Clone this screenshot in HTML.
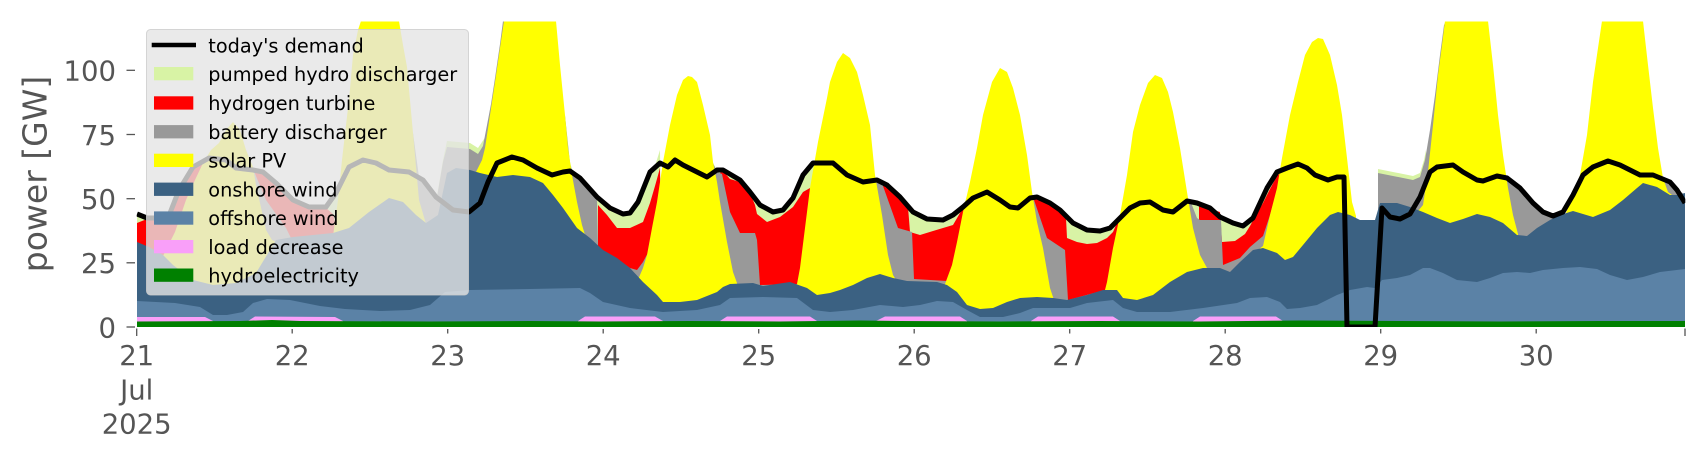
<!DOCTYPE html>
<html>
<head>
<meta charset="utf-8">
<style>
  html, body { margin: 0; padding: 0; background: #ffffff; }
  svg { display: block; }
  text { font-family: "DejaVu Sans", "Liberation Sans", sans-serif; }
</style>
</head>
<body>
<svg width="1706" height="460" viewBox="0 0 1706 460" xmlns="http://www.w3.org/2000/svg">
  <defs>
    <clipPath id="plot">
      <rect x="136.7" y="21.5" width="1548.6" height="305.5"/>
    </clipPath>
  </defs>
  <rect x="0" y="0" width="1706" height="460" fill="#ffffff"/>

  <g clip-path="url(#plot)">
    <!-- pumped hydro discharger -->
    <g fill="#d8f3a5">
      <path d="M137,327 L137,216 L147,216 L160,217 L167,216 L170,212 L179,188 L193,166 L209,157 L226,159 L236,167 L250,169 L263,172 L276,183 L293,200 L309,207 L326,207 L336,193 L342,176 L344,327 Z"/>
      <path d="M413,327 L413,133 L419,176 L426,183 L437,196 L443,160 L447,141 L470,143 L478,148 L486,136 L490,110 L492,327 Z"/>
      <path d="M565,327 L565,115 L570,162 L573,173 L580,177 L590,187 L597,197 L603,203 L610,209 L617,212 L623,214 L630,213 L638,203 L645,186 L650,173 L655,166 L660,150 L662,327 Z"/>
      <path d="M713,327 L713,163 L717,170 L723,170 L740,180 L750,192 L760,204 L773,212 L783,210 L793,198 L803,176 L810,168 L814,160 L816,327 Z"/>
      <path d="M873,327 L873,178 L877,180 L887,185 L900,197 L913,211 L927,218 L943,219 L953,214 L963,206 L970,190 L972,327 Z"/>
      <path d="M1028,327 L1028,198 L1037,197 L1050,203 L1060,210 L1073,223 L1087,230 L1100,231 L1110,228 L1120,218 L1125,208 L1127,327 Z"/>
      <path d="M1185,327 L1185,200 L1197,203 L1210,208 L1220,217 L1233,223 L1243,226 L1250,220 L1257,212 L1263,201 L1270,186 L1277,174 L1287,168 L1292,150 L1294,327 Z"/>
      <path d="M1378,327 L1378,169 L1393,172 L1413,176 L1420,173 L1424,160 L1426,150 L1428,327 Z"/>
    </g>
    <!-- hydrogen turbine -->
    <g fill="#ff0000">
      <path d="M137,327 L137,223 L147,219 L160,220 L167,219 L170,214 L179,190 L193,168 L209,160 L226,162 L236,170 L250,171 L263,173 L276,184 L293,201 L309,208 L326,208 L333,214 L337,232 L340,327 Z"/>
      <path d="M598,327 L598,205 L607,215 L617,228 L630,228 L643,222 L650,203 L655,186 L660,168 L662,327 Z"/>
      <path d="M720,327 L720,173 L723,171 L730,179 L740,182 L750,193 L755,205 L757,214 L767,222 L780,217 L793,207 L803,192 L810,188 L812,327 Z"/>
      <path d="M883,327 L883,185 L887,186 L900,198 L908,207 L910,232 L920,235 L933,231 L943,228 L953,225 L960,213 L965,205 L967,327 Z"/>
      <path d="M1033,327 L1033,197 L1037,198 L1050,204 L1060,211 L1066,218 L1067,238 L1077,242 L1087,244 L1097,243 L1107,238 L1113,232 L1120,216 L1122,327 Z"/>
      <path d="M1199,327 L1199,204 L1210,209 L1220,212 L1222,242 L1235,241 L1245,234 L1250,226 L1257,213 L1263,203 L1270,189 L1277,176 L1283,170 L1285,327 Z"/>
    </g>
    <!-- battery discharger -->
    <g fill="#999999">
      <path d="M246,327 L246,150 L256,176 L266,200 L276,214 L286,228 L292,240 L294,327 Z"/>
      <path d="M413,327 L413,133 L419,178 L426,185 L437,197 L443,162 L447,147 L470,149 L478,154 L483,146 L487,125 L491,104 L495,78 L500,44 L503,21 L506,21 L506,327 Z"/>
      <path d="M565,327 L565,116 L570,164 L573,174 L580,178 L590,188 L597,198 L598,247 L603,252 L617,259 L630,268 L637,270 L643,262 L650,249 L655,230 L657,327 Z"/>
      <path d="M713,327 L713,163 L717,172 L722,174 L730,212 L740,233 L755,233 L757,240 L760,285 L800,284 L803,284 L803,327 Z"/>
      <path d="M873,327 L873,178 L877,180 L883,186 L898,228 L912,232 L914,279 L947,281 L952,284 L952,327 Z"/>
      <path d="M1028,327 L1028,196 L1033,197 L1047,238 L1065,250 L1068,300 L1105,290 L1108,285 L1108,327 Z"/>
      <path d="M1185,327 L1185,197 L1190,200 L1197,218 L1200,220 L1221,220 L1223,265 L1240,258 L1250,247 L1263,236 L1270,215 L1277,190 L1282,170 L1284,327 Z"/>
      <path d="M1378,327 L1378,173 L1393,176 L1413,180 L1420,177 L1425,160 L1430,130 L1435,95 L1440,55 L1444,25 L1446,21 L1450,21 L1450,327 Z"/>
      <path d="M1498,327 L1498,120 L1503,175 L1507,178 L1513,182 L1520,188 L1533,203 L1543,212 L1550,216 L1556,222 L1558,327 Z"/>
      <path d="M1660,327 L1660,175 L1667,182 L1677,189 L1685,195 L1685,327 Z"/>
    </g>
    <!-- solar PV -->
    <g fill="#ffff00">
      <path d="M163,327 L163,256 L175,232 L186,200 L195,180 L203,163 L211,150 L219,143 L226,130 L233,122 L240,130 L246,150 L253,167 L256,185 L262,212 L266,230 L272,240 L276,242 L276,327 Z"/>
      <path d="M333,327 L333,236 L338,200 L342,160 L346,125 L349,100 L353,55 L358,30 L361,21 L399,21 L403,45 L407,67 L413,133 L419,200 L426,224 L428,327 Z"/>
      <path d="M476,327 L476,172 L482,160 L485,148 L490,115 L495,82 L500,48 L504,21 L556,21 L560,65 L565,115 L568,148 L572,175 L577,202 L582,225 L586,238 L588,327 Z"/>
      <path d="M637,327 L637,282 L643,268 L647,255 L652,228 L657,202 L663,162 L670,125 L677,95 L683,80 L688,76 L692,77 L697,82 L703,105 L710,135 L713,162 L717,182 L720,202 L727,242 L733,272 L737,283 L739,327 Z"/>
      <path d="M797,327 L797,284 L800,268 L805,228 L810,188 L818,142 L827,98 L830,82 L837,62 L843,53 L850,58 L857,72 L863,95 L870,125 L875,175 L882,215 L888,255 L893,275 L896,280 L898,327 Z"/>
      <path d="M945,327 L945,284 L952,265 L957,242 L963,212 L970,182 L977,148 L983,115 L992,82 L1000,68 L1007,72 L1013,88 L1020,115 L1027,155 L1032,192 L1037,222 L1043,248 L1050,288 L1054,300 L1056,327 Z"/>
      <path d="M1105,327 L1105,290 L1107,282 L1113,248 L1120,215 L1127,175 L1133,132 L1140,105 L1148,83 L1155,75 L1162,78 L1168,92 L1173,112 L1180,148 L1187,192 L1193,228 L1200,255 L1207,268 L1209,327 Z"/>
      <path d="M1258,327 L1258,250 L1263,246 L1270,215 L1277,188 L1282,158 L1290,115 L1298,82 L1305,55 L1312,42 L1318,38 L1323,39 L1330,55 L1337,85 L1342,115 L1347,158 L1352,202 L1356,216 L1358,327 Z"/>
      <path d="M1418,327 L1418,211 L1423,205 L1428,172 L1433,125 L1438,75 L1442,45 L1445,21 L1488,21 L1493,65 L1498,115 L1503,155 L1508,188 L1513,215 L1518,234 L1520,327 Z"/>
      <path d="M1566,327 L1566,213 L1573,195 L1580,175 L1587,135 L1593,82 L1598,48 L1602,21 L1643,21 L1648,65 L1653,108 L1658,148 L1663,178 L1668,192 L1672,195 L1674,327 Z"/>
    </g>
    <!-- onshore wind -->
    <path fill="#3b6182" d="M137,327 L137,242 L149,247 L163,255 L173,265 L193,280 L213,285 L236,283 L256,273 L276,240 L293,237 L313,235 L333,233 L349,228 L369,212 L389,198 L403,202 L416,215 L426,223 L438,215 L447,173 L456,168 L470,170 L480,173 L497,177 L513,175 L530,177 L543,183 L553,195 L563,208 L577,228 L590,238 L603,250 L617,258 L630,268 L643,282 L657,295 L663,302 L680,302 L697,300 L717,292 L723,287 L730,284 L753,283 L763,286 L790,282 L807,288 L817,295 L830,293 L840,290 L853,285 L867,278 L880,274 L893,278 L907,281 L937,282 L947,285 L957,292 L967,305 L980,309 L993,308 L1007,302 L1020,298 L1037,297 L1053,298 L1067,300 L1087,295 L1103,290 L1117,290 L1123,298 L1137,300 L1153,295 L1170,282 L1187,272 L1203,268 L1220,268 L1230,272 L1240,262 L1253,250 L1263,248 L1277,253 L1285,260 L1293,257 L1303,245 L1317,228 L1330,215 L1338,212 L1350,215 L1360,220 L1375,220 L1380,203 L1397,203 L1410,207 L1423,212 L1437,218 L1450,223 L1463,219 L1477,214 L1490,217 L1503,223 L1517,235 L1527,236 L1537,228 L1550,220 L1560,215 L1573,211 L1593,217 L1610,210 L1623,200 L1637,188 L1643,183 L1657,187 L1670,195 L1677,195 L1685,193 L1685,327 Z"/>
    <!-- offshore wind -->
    <path fill="#5b82a6" d="M137,327 L137,301 L175,303 L200,307 L213,315 L227,315 L243,312 L253,303 L267,299 L290,300 L320,306 L345,309 L380,311 L410,310 L430,305 L445,292 L470,290 L530,289 L580,288 L590,293 L603,302 L630,308 L663,312 L697,310 L720,305 L730,298 L763,297 L797,298 L813,310 L830,312 L853,310 L880,305 L903,307 L920,305 L937,301 L953,302 L967,310 L980,317 L1003,317 L1020,313 L1033,308 L1070,308 L1087,303 L1113,300 L1123,308 L1137,312 L1170,312 L1203,308 L1237,303 L1250,298 L1267,297 L1280,302 L1287,309 L1300,308 L1317,305 L1337,295 L1350,290 L1367,287 L1375,288 L1382,280 L1397,278 L1410,275 L1423,268 L1430,268 L1443,273 L1457,280 L1477,282 L1490,278 L1503,273 L1517,272 L1530,273 L1543,270 L1563,268 L1580,267 L1597,269 L1610,275 L1627,280 L1643,277 L1660,272 L1685,269 L1685,327 Z"/>
    <!-- load decrease -->
    <g fill="#f99ff9">
      <path d="M137,327 L137,317 L205,317 L213,321 L213,327 Z"/>
      <path d="M248,327 L248,321 L255,316.5 L335,317 L343,321 L343,327 Z"/>
      <path d="M578,327 L578,321 L585,316.5 L655,316.5 L663,321 L663,327 Z"/>
      <path d="M720,327 L720,321 L727,316.5 L810,316.5 L817,321 L817,327 Z"/>
      <path d="M876,327 L876,321 L885,316.5 L960,316.5 L967,321 L967,327 Z"/>
      <path d="M1031,327 L1031,321 L1038,316.5 L1113,316.5 L1120,321 L1120,327 Z"/>
      <path d="M1193,327 L1193,321 L1200,316.5 L1276,316.5 L1283,321 L1283,327 Z"/>
    </g>
    <!-- hydroelectricity -->
    <path fill="#008000" d="M137,327 L137,321.5 L240,321 L272,320 L300,321 L430,321.5 L530,321 L600,321.5 L690,321 L780,321.5 L860,320.5 L900,321 L1000,321.5 L1100,321 L1200,321.5 L1300,320.5 L1400,321 L1500,321.5 L1600,321 L1685,321 L1685,327 Z"/>
    <!-- today's demand -->
    <path fill="none" stroke="#000000" stroke-width="5" stroke-linejoin="round" stroke-linecap="butt" d="M137,214 L147,218 L160,218 L167,217 L170,213 L179,190 L193,167 L209,158 L226,160 L236,168 L253,170 L263,172 L276,183 L293,200 L309,207 L326,207 L336,193 L349,167 L363,160 L376,163 L389,170 L409,172 L423,180 L436,197 L453,210 L469,212 L480,203 L488,182 L497,163 L512,157 L523,160 L537,168 L552,175 L563,172 L570,171 L580,178 L597,197 L610,208 L623,214 L630,213 L638,202 L650,172 L660,163 L668,167 L675,160 L683,165 L697,172 L707,177 L717,170 L723,170 L740,180 L750,192 L760,205 L773,212 L783,210 L793,198 L803,175 L813,163 L833,163 L847,175 L863,182 L877,180 L887,185 L900,197 L913,212 L927,219 L943,220 L953,215 L963,207 L973,198 L987,192 L1000,200 L1010,207 L1018,208 L1030,198 L1037,197 L1050,203 L1060,210 L1073,223 L1087,230 L1100,231 L1110,228 L1120,218 L1130,208 L1140,203 L1150,202 L1163,210 L1173,212 L1187,201 L1197,203 L1210,208 L1220,217 L1233,223 L1243,226 L1253,218 L1260,203 L1267,188 L1277,172 L1287,168 L1298,164 L1307,168 L1315,175 L1328,180 L1337,177 L1344,177 L1347,327 L1375,327 L1382,208 L1390,217 L1400,219 L1410,214 L1420,197 L1430,172 L1437,167 L1453,165 L1463,172 L1477,180 L1483,181 L1497,176 L1507,178 L1520,188 L1533,203 L1543,212 L1553,216 L1563,212 L1573,195 L1583,175 L1593,167 L1603,163 L1608,161 L1620,165 L1640,175 L1653,175 L1670,182 L1677,190 L1685,203"/>
  </g>

  <!-- legend -->
  <rect x="146.5" y="29.5" width="322" height="265.5" rx="4" ry="4" fill="#e5e5e5" fill-opacity="0.8" stroke="#cccccc" stroke-opacity="0.8" stroke-width="1"/>
  <line x1="151.7" y1="45" x2="196" y2="45" stroke="#000000" stroke-width="4.5"/>
  <rect x="154" y="67" width="39.3" height="13.3" fill="#d8f3a5"/>
  <rect x="154" y="96.3" width="39.3" height="13.3" fill="#ff0000"/>
  <rect x="154" y="125.1" width="39.3" height="13.3" fill="#999999"/>
  <rect x="154" y="153.7" width="39.3" height="13.3" fill="#ffff00"/>
  <rect x="154" y="182.6" width="39.3" height="13.3" fill="#3b6182"/>
  <rect x="154" y="211.4" width="39.3" height="13.3" fill="#5b82a6"/>
  <rect x="154" y="240" width="39.3" height="13.3" fill="#f99ff9"/>
  <rect x="154" y="268.5" width="39.3" height="13.3" fill="#008000"/>
  <g font-size="19.3" fill="#000000">
    <text x="208.3" y="52.5">today's demand</text>
    <text x="208.3" y="81">pumped hydro discharger</text>
    <text x="208.3" y="110">hydrogen turbine</text>
    <text x="208.3" y="138.8">battery discharger</text>
    <text x="208.3" y="167.5">solar PV</text>
    <text x="208.3" y="196.3">onshore wind</text>
    <text x="208.3" y="225">offshore wind</text>
    <text x="208.3" y="253.8">load decrease</text>
    <text x="208.3" y="282.3">hydroelectricity</text>
  </g>

  <!-- y axis ticks -->
  <g stroke="#555555" stroke-width="1.3">
    <line x1="126.5" y1="327" x2="135" y2="327"/>
    <line x1="126.5" y1="262.8" x2="135" y2="262.8"/>
    <line x1="126.5" y1="198.7" x2="135" y2="198.7"/>
    <line x1="126.5" y1="134.5" x2="135" y2="134.5"/>
    <line x1="126.5" y1="70.3" x2="135" y2="70.3"/>
  </g>
  <g font-size="27.5" fill="#555555" text-anchor="end">
    <text x="116" y="337.3">0</text>
    <text x="116" y="273.1">25</text>
    <text x="116" y="209">50</text>
    <text x="116" y="144.8">75</text>
    <text x="116" y="80.6">100</text>
  </g>
  <text x="46.5" y="174" font-size="33" fill="#555555" text-anchor="middle" transform="rotate(-90 46.5 174)">power [GW]</text>

  <!-- x axis ticks -->
  <g stroke="#555555" stroke-width="1.3">
    <line x1="136.7" y1="328.5" x2="136.7" y2="336"/>
    <line x1="292.2" y1="329" x2="292.2" y2="333.5"/>
    <line x1="447.7" y1="329" x2="447.7" y2="333.5"/>
    <line x1="603.2" y1="329" x2="603.2" y2="333.5"/>
    <line x1="758.7" y1="329" x2="758.7" y2="333.5"/>
    <line x1="914.2" y1="329" x2="914.2" y2="333.5"/>
    <line x1="1069.7" y1="329" x2="1069.7" y2="333.5"/>
    <line x1="1225.2" y1="329" x2="1225.2" y2="333.5"/>
    <line x1="1380.7" y1="329" x2="1380.7" y2="333.5"/>
    <line x1="1536.2" y1="329" x2="1536.2" y2="333.5"/>
    <line x1="1685" y1="328.5" x2="1685" y2="336"/>
  </g>
  <g font-size="27.5" fill="#555555" text-anchor="middle">
    <text x="136.7" y="365">21</text>
    <text x="136.7" y="399.5">Jul</text>
    <text x="136.7" y="433.3">2025</text>
    <text x="292.2" y="365">22</text>
    <text x="447.7" y="365">23</text>
    <text x="603.2" y="365">24</text>
    <text x="758.7" y="365">25</text>
    <text x="914.2" y="365">26</text>
    <text x="1069.7" y="365">27</text>
    <text x="1225.2" y="365">28</text>
    <text x="1380.7" y="365">29</text>
    <text x="1536.2" y="365">30</text>
  </g>
</svg>
</body>
</html>
